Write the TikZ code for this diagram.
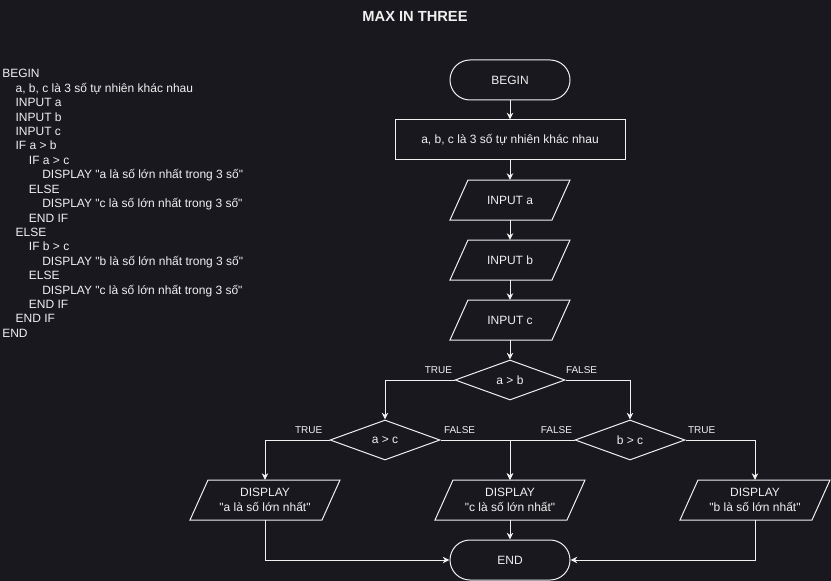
\documentclass[tikz,border=0pt]{standalone}
\usepackage{fontspec}
\setmainfont{Liberation Sans}[Ligatures=TeXOff]
\usetikzlibrary{shapes.geometric,arrows.meta}
\definecolor{bgc}{HTML}{19181F}
\definecolor{fgc}{HTML}{F0F0F0}
\newcommand\paraout[1]{\draw[shp] ([xshift=-6.75pt]#1.south west) -- ([xshift=6.75pt]#1.north west) -- ([xshift=6.75pt]#1.north east) -- ([xshift=-6.75pt]#1.south east) -- cycle;}
\tikzset{
  shp/.style={draw=fgc, line width=0.75pt},
  txt/.style={text=fgc, font=\fontsize{9}{10.8}\selectfont},
  term/.style={txt, shp, rounded corners=15pt, minimum width=90pt, minimum height=30pt, inner sep=0pt},
  procbox/.style={txt, shp, minimum width=172.5pt, minimum height=30pt, inner sep=0pt},
  para/.style={txt, minimum width=#1, minimum height=30pt, inner sep=0pt, outer sep=0pt, align=center},
  dec/.style={txt, shp, diamond, minimum width=82.5pt, minimum height=30pt, inner sep=1pt, shape aspect=2.75},
  arr/.style={draw=fgc, line width=0.75pt, -{Stealth[length=5pt, width=4.8pt, inset=1.5pt]}},
  lbl/.style={text=fgc, font=\fontsize{7.5}{9}\selectfont, inner sep=0pt},
  code/.style={txt, inner sep=0pt, anchor=base west},
}
\begin{document}
\begin{tikzpicture}[x=0.75pt, y=-0.75pt]
\fill[bgc] (0,0) rectangle (831,581);
\useasboundingbox (0,0) rectangle (831,581);

\node[text=fgc, font=\fontsize{11}{13}\selectfont\bfseries] (title) at (415,16) {MAX IN THREE};

\foreach \lvl/\txt [count=\i] in {
  0/BEGIN,
  1/{a, b, c là 3 số tự nhiên khác nhau},
  1/INPUT a,
  1/INPUT b,
  1/INPUT c,
  1/IF a > b,
  2/IF a > c,
  3/DISPLAY "a là số lớn nhất trong 3 số",
  2/ELSE,
  3/DISPLAY "c là số lớn nhất trong 3 số",
  2/END IF,
  1/ELSE,
  2/IF b > c,
  3/DISPLAY "b là số lớn nhất trong 3 số",
  2/ELSE,
  3/DISPLAY "c là số lớn nhất trong 3 số",
  2/END IF,
  1/END IF,
  0/END}
  \node[code, name=code\i] at ({2+13.33*\lvl},{78+14.4*(\i-1)}) {\txt};

\node[term] (begin) at (510,80) {BEGIN};
\node[procbox] (init) at (510,140) {a, b, c là 3 số tự nhiên khác nhau};
\node[para=76.5pt] (ina) at (510,200) {INPUT a}; \paraout{ina}
\node[para=76.5pt] (inb) at (510,260) {INPUT b}; \paraout{inb}
\node[para=76.5pt] (inc) at (510,320) {INPUT c}; \paraout{inc}
\node[dec] (d1) at (510,380) {a > b};
\node[dec] (d2) at (385,440) {a > c};
\node[dec] (d3) at (630,440) {b > c};
\node[para=99pt] (dispa) at (265,500) {DISPLAY\\"a là số lớn nhất"}; \paraout{dispa}
\node[para=99pt] (dispc) at (510,500) {DISPLAY\\"c là số lớn nhất"}; \paraout{dispc}
\node[para=99pt] (dispb) at (755,500) {DISPLAY\\"b là số lớn nhất"}; \paraout{dispb}
\node[term] (end) at (510,560) {END};

\draw[arr] (begin) -- (init);
\draw[arr] (init) -- (ina);
\draw[arr] (ina) -- (inb);
\draw[arr] (inb) -- (inc);
\draw[arr] (inc) -- (d1);
\draw[arr] (d1.west) -| (d2.north) node[lbl, pos=0, anchor=base east, xshift=-1.5pt, yshift=4.9pt] {TRUE};
\draw[arr] (d1.east) -| (d3.north) node[lbl, pos=0, anchor=base west, xshift=0pt, yshift=4.9pt] {FALSE};
\draw[arr] (d2.west) -| (dispa.north) node[lbl, pos=0, anchor=base east, xshift=-5pt, yshift=4.9pt] {TRUE};
\draw[arr] (d2.east) -| (dispc.north) node[lbl, pos=0, anchor=base west, xshift=2.25pt, yshift=4.9pt] {FALSE};
\draw[arr] (d3.west) -| (dispc.north) node[lbl, pos=0, anchor=base east, xshift=-1.5pt, yshift=4.9pt] {FALSE};
\draw[arr] (d3.east) -| (dispb.north) node[lbl, pos=0, anchor=base west, xshift=1.5pt, yshift=4.9pt] {TRUE};
\draw[arr] (dispa.south) |- (end.west);
\draw[arr] (dispc.south) -- (end.north);
\draw[arr] (dispb.south) |- (end.east);
\end{tikzpicture}
\end{document}
